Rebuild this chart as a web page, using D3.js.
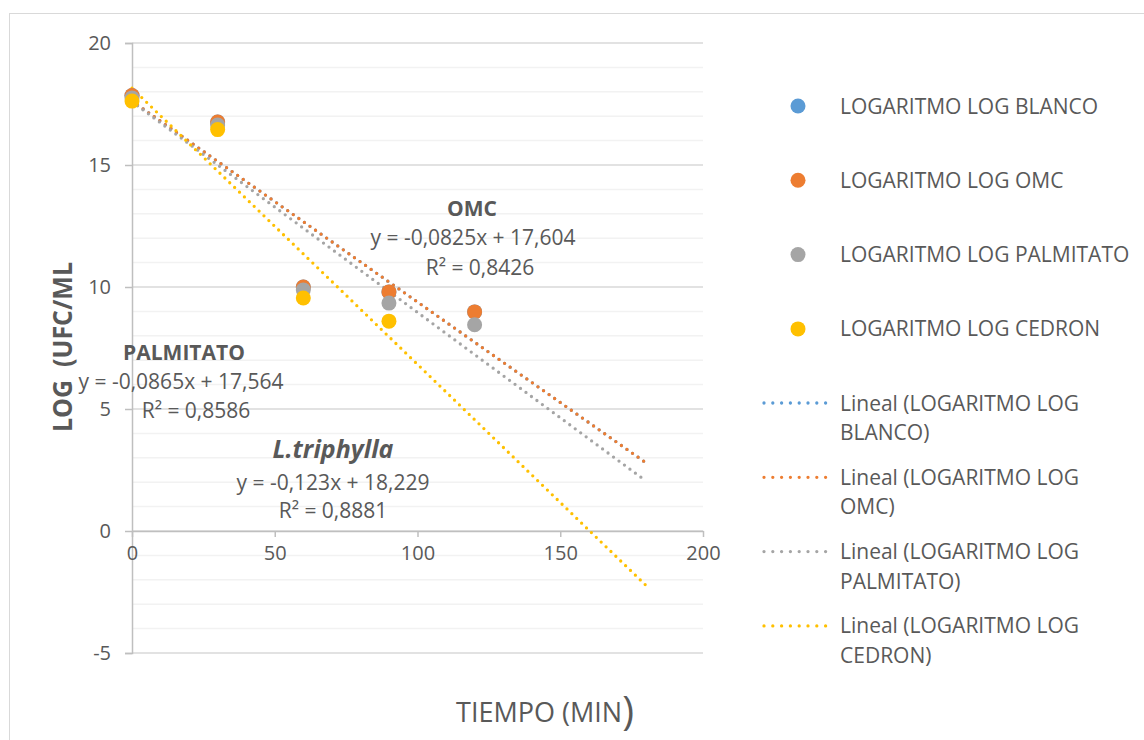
<!DOCTYPE html>
<html>
<head>
<meta charset="utf-8">
<script src="https://cdn.jsdelivr.net/npm/d3@7"></script>
<style>
  body { margin: 0; background: #fff; }
  text { font-family: "Open Sans", sans-serif; fill: #595959; }
</style>
</head>
<body>
<svg id="chart" width="1144" height="740"></svg>
<script>
// Data
var tiempos = [0, 30, 60, 90, 120];
var blanco = [17.85, 16.76, 10.0, 9.8, 8.98];
var omc = [17.85, 16.76, 10.0, 9.8, 8.98];
var palmitato = [17.75, 16.64, 9.88, 9.34, 8.45];
var cedron = [17.62, 16.45, 9.55, 8.6];

var seriesNames = ["LOGARITMO LOG BLANCO", "LOGARITMO LOG OMC", "LOGARITMO LOG PALMITATO", "LOGARITMO LOG CEDRON"];
var trendNames = [["Lineal (LOGARITMO LOG", "BLANCO)"], ["Lineal (LOGARITMO LOG", "OMC)"],
                  ["Lineal (LOGARITMO LOG", "PALMITATO)"], ["Lineal (LOGARITMO LOG", "CEDRON)"]];
var colors = ["#5B9BD5", "#ED7D31", "#A5A5A5", "#FFC000"];
var xTicks = [0, 50, 100, 150, 200];
var yTicks = [-5, 0, 5, 10, 15, 20];
var trendEnd = 180;

var series = [blanco, omc, palmitato, cedron].map(function(vals, i) {
    return {
        name: seriesNames[i],
        color: colors[i],
        points: vals.map(function(v, j) { return {x: tiempos[j], y: v}; })
    };
});

// Least squares fit for each series (Excel "Lineal" trendline)
function fit(points) {
    var mx = d3.mean(points, d => d.x), my = d3.mean(points, d => d.y);
    var sxy = d3.sum(points, d => (d.x - mx) * (d.y - my));
    var sxx = d3.sum(points, d => (d.x - mx) * (d.x - mx));
    var m = sxy / sxx;
    return {m: m, b: my - m * mx};
}

var svg = d3.select("#chart");

// chart border
svg.append("rect")
    .attr("x", 9.5).attr("y", 13.5)
    .attr("width", 1150).attr("height", 740)
    .attr("fill", "none").attr("stroke", "#d9d9d9");

var x = d3.scaleLinear().domain([0, 200]).range([132, 703]);
var y = d3.scaleLinear().domain([-5, 20]).range([653, 43]);

// minor gridlines
svg.append("g").selectAll("line")
    .data(d3.range(-5, 21, 1).filter(v => v % 5 !== 0))
    .enter().append("line")
    .attr("x1", x(0)).attr("x2", x(200))
    .attr("y1", d => y(d)).attr("y2", d => y(d))
    .attr("stroke", "#f2f2f2").attr("stroke-width", 1.5);

// major gridlines
svg.append("g").selectAll("line")
    .data(yTicks)
    .enter().append("line")
    .attr("x1", x(0)).attr("x2", x(200))
    .attr("y1", d => y(d)).attr("y2", d => y(d))
    .attr("stroke", "#d9d9d9").attr("stroke-width", 1.5);

var fmt = d => String(d);

// y axis
var yAxis = svg.append("g")
    .attr("transform", "translate(" + x(0) + ",0)")
    .call(d3.axisLeft(y).tickValues(yTicks).tickFormat(fmt).tickSize(7).tickPadding(14));
yAxis.select(".domain").attr("stroke", "#bfbfbf").attr("stroke-width", 1.5);
yAxis.selectAll(".tick line").attr("stroke", "#bfbfbf").attr("stroke-width", 1.5);
yAxis.selectAll(".tick text").attr("font-size", 20).style("font-family", "'Open Sans', sans-serif").attr("fill", "#595959");

// x axis drawn at y = 0
var xAxis = svg.append("g")
    .attr("transform", "translate(0," + y(0) + ")")
    .call(d3.axisBottom(x).tickValues(xTicks).tickFormat(fmt).tickSize(6).tickPadding(9).tickSizeOuter(0));
xAxis.select(".domain").attr("stroke", "#bfbfbf").attr("stroke-width", 1.5);
xAxis.selectAll(".tick line").attr("stroke", "#bfbfbf").attr("stroke-width", 1.5);
xAxis.selectAll(".tick text").attr("font-size", 20).style("font-family", "'Open Sans', sans-serif").attr("fill", "#595959");

// trendlines
var line = d3.line().x(d => x(d[0])).y(d => y(d[1]));
series.forEach(function(s) {
    var f = fit(s.points);
    svg.append("path")
        .datum([[0, f.b], [trendEnd, f.b + f.m * trendEnd]])
        .attr("d", line)
        .attr("fill", "none")
        .attr("stroke", s.color)
        .attr("stroke-width", 3.3)
        .attr("stroke-linecap", "round")
        .attr("stroke-dasharray", "0 6.8");
});

// points
series.forEach(function(s) {
    svg.append("g").selectAll("circle")
        .data(s.points)
        .enter().append("circle")
        .attr("cx", d => x(d.x))
        .attr("cy", d => y(d.y))
        .attr("r", 7.5)
        .attr("fill", s.color);
});

// equation labels
function label(tx, ty, txt, size, weight, style) {
    svg.append("text")
        .attr("x", tx).attr("y", ty)
        .attr("text-anchor", "middle")
        .attr("font-size", size)
        .attr("font-weight", weight || "normal")
        .attr("font-style", style || "normal")
        .text(txt);
}
label(472, 216, "OMC", 21, "bold");
label(473, 245, "y = -0,0825x + 17,604", 21);
label(480, 275, "R² = 0,8426", 21);

label(184, 360, "PALMITATO", 21, "bold");
label(181, 389, "y = -0,0865x + 17,564", 21);
label(196, 418, "R² = 0,8586", 21);

label(333, 458, "L.triphylla", 25, "bold", "italic");
label(333, 490, "y = -0,123x + 18,229", 21);
label(333, 518, "R² = 0,8881", 21);

// axis titles
svg.append("text")
    .attr("transform", "translate(72,347) rotate(-90)")
    .attr("text-anchor", "middle")
    .attr("font-size", 27)
    .attr("font-weight", "bold")
    .attr("textLength", 170)
    .attr("lengthAdjust", "spacingAndGlyphs")
    .style("white-space", "pre")
    .text("LOG  (UFC/ML");

var xt = svg.append("text")
    .attr("x", 545).attr("y", 722)
    .attr("text-anchor", "middle")
    .attr("font-size", 27);
xt.append("tspan").text("TIEMPO (MIN");
xt.append("tspan").attr("font-size", 40).attr("dy", 3).text(")");

// legend
var lg = svg.append("g");
series.forEach(function(s, i) {
    var ly = 106 + i * 74.3;
    lg.append("circle").attr("cx", 798).attr("cy", ly).attr("r", 7.5).attr("fill", s.color);
    lg.append("text").attr("x", 840).attr("y", ly + 7.5).attr("font-size", 21).text(s.name);
});
trendNames.forEach(function(t, i) {
    var ly = 403 + i * 74.3;
    lg.append("line")
        .attr("x1", 764).attr("x2", 826).attr("y1", ly).attr("y2", ly)
        .attr("stroke", colors[i]).attr("stroke-width", 3.3)
        .attr("stroke-linecap", "round").attr("stroke-dasharray", "0 8.8");
    lg.append("text").attr("x", 840).attr("y", ly + 7.5).attr("font-size", 21).text(t[0]);
    lg.append("text").attr("x", 840).attr("y", ly + 37).attr("font-size", 21).text(t[1]);
});
</script>
</body>
</html>
